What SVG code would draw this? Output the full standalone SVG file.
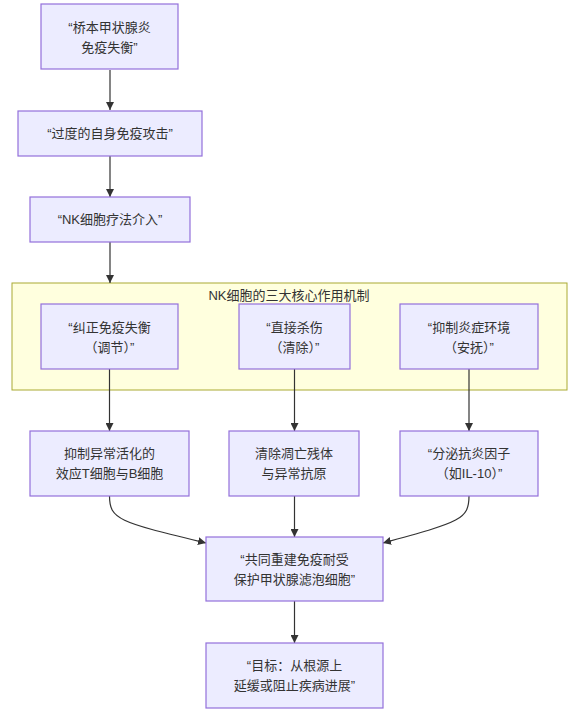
<svg xmlns="http://www.w3.org/2000/svg" width="583" height="726" viewBox="0 0 583 726">
<style>
.node rect{fill:#ECECFF;stroke:#9370DB;stroke-width:1.2}
.cluster rect{fill:#FFFFDE;stroke:#AAAA33;stroke-width:1}
text{font-family:"Liberation Sans","Noto Sans CJK SC",sans-serif;font-size:13px;fill:#333333;text-anchor:middle;dominant-baseline:central}
.edge{fill:none;stroke:#333333;stroke-width:1.2}
</style>
<defs>
<marker id="arrow" viewBox="0 0 10 10" refX="10" refY="5" markerUnits="userSpaceOnUse" markerWidth="8" markerHeight="8" orient="auto">
<path d="M0,0 L10,5 L0,10 z" fill="#333333"/>
</marker>
</defs>
<rect width="583" height="726" fill="#FFFFFF"/>
<g id="cluster-mechanisms" class="cluster">
<rect x="12" y="283" width="555" height="107"/>
<text x="289" y="295">NK细胞的三大核心作用机制</text>
</g>
<g id="edges">
<path class="edge" d="M110,70 L110,110" marker-end="url(#arrow)"/>
<path class="edge" d="M110,156 L110,197" marker-end="url(#arrow)"/>
<path class="edge" d="M110,242 L110,283" marker-end="url(#arrow)"/>
<path class="edge" d="M109.5,369 L109.5,431" marker-end="url(#arrow)"/>
<path class="edge" d="M294.5,369 L294.5,431" marker-end="url(#arrow)"/>
<path class="edge" d="M469,369 L469,431" marker-end="url(#arrow)"/>
<path class="edge" d="M109.5,496 C109.5,520 120,522 206,543" marker-end="url(#arrow)"/>
<path class="edge" d="M294.5,496 L294.5,537" marker-end="url(#arrow)"/>
<path class="edge" d="M469,496 C469,520 459,522 383,543" marker-end="url(#arrow)"/>
<path class="edge" d="M294.5,601 L294.5,643" marker-end="url(#arrow)"/>
</g>
<g id="n1" class="node">
<rect x="41" y="4" width="137" height="65"/>
<text x="109.5" y="27">“桥本甲状腺炎</text>
<text x="109.5" y="47">免疫失衡”</text>
</g>
<g id="n2" class="node">
<rect x="18" y="111" width="184" height="45"/>
<text x="110" y="133.5">“过度的自身免疫攻击”</text>
</g>
<g id="n3" class="node">
<rect x="30" y="197" width="160" height="45"/>
<text x="110" y="219.5">“NK细胞疗法介入”</text>
</g>
<g id="nA" class="node">
<rect x="41" y="304" width="137" height="65"/>
<text x="109.5" y="327">“纠正免疫失衡</text>
<text x="109.5" y="347">（调节）”</text>
</g>
<g id="nB" class="node">
<rect x="239" y="304" width="111" height="65"/>
<text x="294.5" y="327">“直接杀伤</text>
<text x="294.5" y="347">（清除）”</text>
</g>
<g id="nC" class="node">
<rect x="400" y="304" width="138" height="65"/>
<text x="469" y="327">“抑制炎症环境</text>
<text x="469" y="347">（安抚）”</text>
</g>
<g id="nD" class="node">
<rect x="30" y="431" width="159" height="65"/>
<text x="109.5" y="453">抑制异常活化的</text>
<text x="109.5" y="473">效应T细胞与B细胞</text>
</g>
<g id="nE" class="node">
<rect x="229" y="431" width="130" height="65"/>
<text x="294" y="453">清除凋亡残体</text>
<text x="294" y="473">与异常抗原</text>
</g>
<g id="nF" class="node">
<rect x="400" y="431" width="138" height="65"/>
<text x="469" y="453">“分泌抗炎因子</text>
<text x="469" y="473">（如IL-10）”</text>
</g>
<g id="nG" class="node">
<rect x="206" y="537" width="177" height="64"/>
<text x="294.5" y="559.5">“共同重建免疫耐受</text>
<text x="294.5" y="579.5">保护甲状腺滤泡细胞”</text>
</g>
<g id="nH" class="node">
<rect x="206" y="643" width="177" height="65"/>
<text x="294.5" y="665.5">“目标：从根源上</text>
<text x="294.5" y="685.5">延缓或阻止疾病进展”</text>
</g>
</svg>
